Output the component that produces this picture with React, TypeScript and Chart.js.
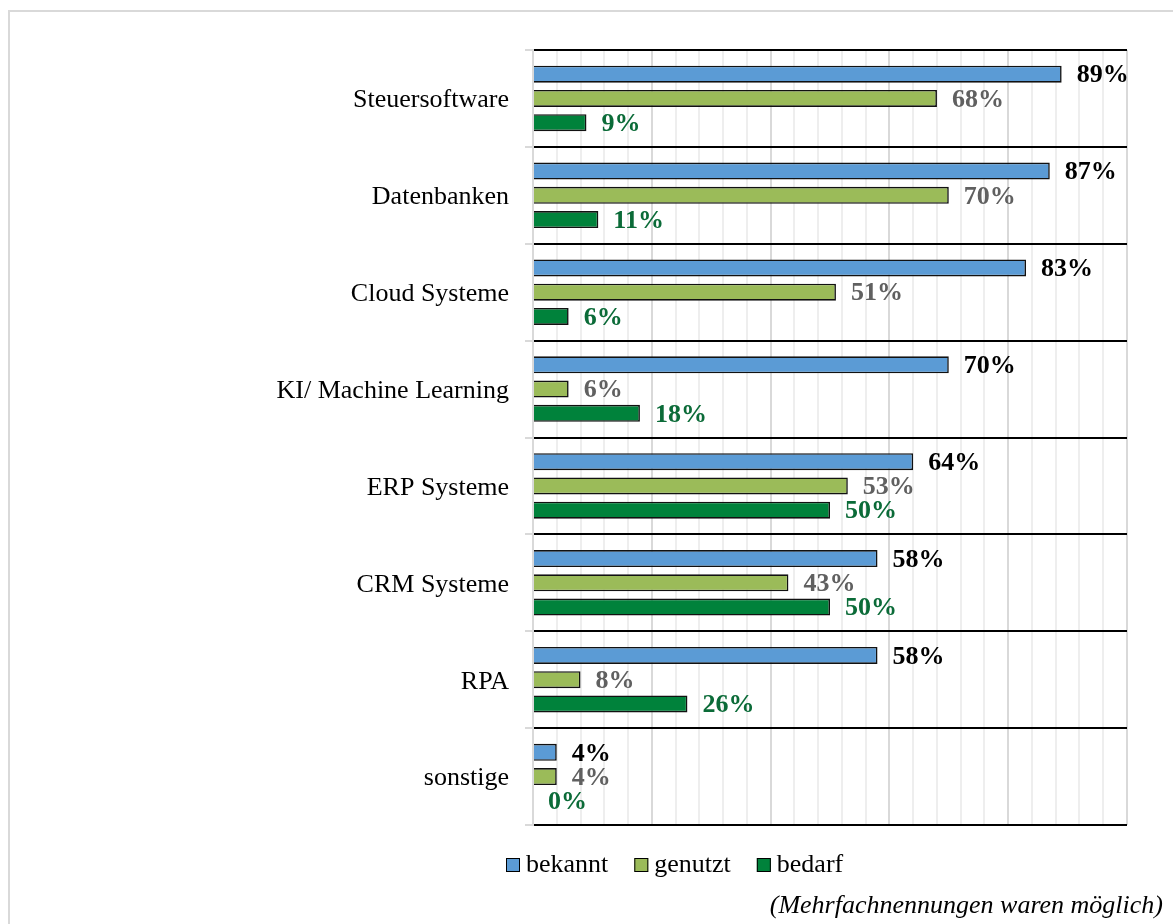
import React, { useEffect, useRef } from "react";
import { Chart, registerables } from "chart.js";

Chart.register(...registerables);

const categories = [
  "Steuersoftware",
  "Datenbanken",
  "Cloud Systeme",
  "KI/ Machine Learning",
  "ERP Systeme",
  "CRM Systeme",
  "RPA",
  "sonstige",
];
const bekannt = [89, 87, 83, 70, 64, 58, 58, 4];
const genutzt = [68, 70, 51, 6, 53, 43, 8, 4];
const bedarf = [9, 11, 6, 18, 50, 50, 26, 0];
const seriesNames = ["bekannt", "genutzt", "bedarf"];
const footnote = "(Mehrfachnennungen waren möglich)";

const FONT = "'Liberation Serif', 'Times New Roman', serif";
const fills = ["#5B9BD5", "#9BBB59", "#00823B"];
const labelColors = ["#000000", "#606060", "#0B6B38"];

export default function App() {
  const ref = useRef<HTMLCanvasElement | null>(null);

  useEffect(() => {
    if (!ref.current) return;
    const labelPlugin = {
      id: "valueLabels",
      afterDatasetsDraw(chart: any) {
        const ctx = chart.ctx;
        ctx.save();
        ctx.font = `bold 26px ${FONT}`;
        ctx.textAlign = "left";
        ctx.textBaseline = "middle";
        chart.data.datasets.forEach((ds: any, di: number) => {
          const meta = chart.getDatasetMeta(di);
          meta.data.forEach((bar: any, i: number) => {
            ctx.fillStyle = labelColors[di];
            ctx.fillText(`${ds.data[i]}%`, bar.x + 15, bar.y + 1.5);
          });
        });
        ctx.restore();
      },
      afterDraw(chart: any) {
        const ctx = chart.ctx;
        ctx.save();
        ctx.font = `26px ${FONT}`;
        ctx.textBaseline = "alphabetic";
        ctx.textAlign = "left";
        let x = 506;
        seriesNames.forEach((name, i) => {
          ctx.fillStyle = fills[i];
          ctx.fillRect(x, 858, 14, 14);
          ctx.strokeStyle = "#000";
          ctx.lineWidth = 1;
          ctx.strokeRect(x + 0.5, 858.5, 13, 13);
          ctx.fillStyle = "#000";
          ctx.fillText(name, x + 20, 872);
          x += 20 + ctx.measureText(name).width + 26;
        });
        ctx.font = `italic 26px ${FONT}`;
        ctx.textAlign = "right";
        ctx.fillText(footnote, 1163, 913);
        ctx.restore();
      },
    };

    const chart = new Chart(ref.current, {
      type: "bar",
      data: {
        labels: categories,
        datasets: [bekannt, genutzt, bedarf].map((d, i) => ({
          label: seriesNames[i],
          data: d,
          backgroundColor: fills[i],
          borderColor: "#111111",
          borderWidth: 1.6,
          categoryPercentage: 0.75,
          barPercentage: 0.7,
        })),
      },
      options: {
        indexAxis: "y",
        responsive: false,
        animation: false,
        layout: { padding: { top: 50, right: 46, bottom: 99, left: 0 } },
        plugins: { legend: { display: false }, tooltip: { enabled: false } },
        scales: {
          x: {
            type: "linear",
            min: 0,
            max: 100,
            afterBuildTicks: (scale: any) => {
              const t = [];
              for (let v = 0; v <= 100; v += 4) t.push({ value: v });
              scale.ticks = t;
            },
            afterFit: (scale: any) => {
              scale.height = 0;
            },
            ticks: { display: false },
            border: { display: false },
            grid: {
              drawTicks: false,
              color: (c: any) => (c.tick && c.tick.value % 20 === 0 ? "#d9d9d9" : "#eeeeee"),
              lineWidth: 2,
            },
          },
          y: {
            type: "category",
            afterFit: (scale: any) => {
              scale.width = 533;
            },
            border: { display: true, color: "#d9d9d9", width: 2 },
            grid: {
              offset: true,
              color: "#000000",
              tickColor: "#d9d9d9",
              lineWidth: 2,
              tickLength: 8,
              drawTicks: true,
            },
            ticks: {
              color: "#000",
              padding: 16,
              labelOffset: 2,
              font: { family: FONT, size: 26 },
            },
          },
        },
      },
      plugins: [labelPlugin],
    } as any);
    return () => chart.destroy();
  }, []);

  return (
    <div>
      <div
        style={{
          position: "absolute",
          left: 8,
          top: 10,
          width: 1165,
          height: 914,
          boxSizing: "border-box",
          borderTop: "2px solid #d9d9d9",
          borderLeft: "2px solid #d9d9d9",
          background: "#fff",
        }}
      />
      <canvas
        ref={ref}
        width={1173}
        height={924}
        style={{ position: "absolute", left: 0, top: 0, display: "block" }}
      />
    </div>
  );
}
